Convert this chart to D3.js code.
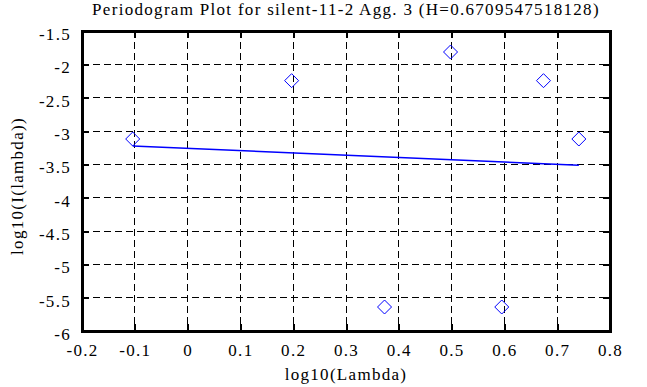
<!DOCTYPE html>
<html>
<head>
<meta charset="utf-8">
<script src="https://cdn.jsdelivr.net/npm/d3@7"></script>
<style>
  body { margin: 0; background: #fff; }
  svg text { font-family: "Liberation Serif", "Times New Roman", serif; fill: #000; letter-spacing: 1.3px; }
</style>
</head>
<body>
<div id="chart"></div>
<script>
// periodogram points (log10 frequency vs log10 intensity)
const logLambda = [-0.104, 0.197, 0.373, 0.498, 0.595, 0.674, 0.741];
const logI = [-3.12, -2.245, -5.64, -1.815, -5.64, -2.245, -3.12];

// least squares fit, evaluated at first and last point
const fitX = [-0.104, 0.741];
const fitY = [-3.225, -3.514];

const xTicks = [-0.2, -0.1, 0, 0.1, 0.2, 0.3, 0.4, 0.5, 0.6, 0.7, 0.8];
const yTicks = [-6, -5.5, -5, -4.5, -4, -3.5, -3, -2.5, -2, -1.5];

const titleText = "Periodogram Plot for silent-11-2 Agg. 3 (H=0.6709547518128)";

const W = 647, H = 387;
const margin = {top: 31, right: 37, bottom: 56, left: 82};
const width = W - margin.left - margin.right;
const height = H - margin.top - margin.bottom;
const serif = '"Liberation Serif", "Times New Roman", serif';

const svg = d3.select("#chart").append("svg")
    .attr("width", W)
    .attr("height", H);

const g = svg.append("g")
    .attr("transform", "translate(" + margin.left + "," + margin.top + ")");

const x = d3.scaleLinear().domain([-0.2, 0.8]).range([0, width]);
const y = d3.scaleLinear().domain([-6, -1.5]).range([height, 0]);

// dashed grid
g.selectAll("line.vgrid")
    .data(xTicks.slice(1, -1))
    .enter().append("line")
    .attr("class", "vgrid")
    .attr("x1", d => x(d)).attr("x2", d => x(d))
    .attr("y1", 0).attr("y2", height)
    .attr("stroke", "#000")
    .attr("stroke-width", 1)
    .attr("shape-rendering", "crispEdges")
    .attr("stroke-dasharray", "7,4");

g.selectAll("line.hgrid")
    .data(yTicks.slice(1, -1))
    .enter().append("line")
    .attr("class", "hgrid")
    .attr("y1", d => y(d)).attr("y2", d => y(d))
    .attr("x1", 0).attr("x2", width)
    .attr("stroke", "#000")
    .attr("stroke-width", 1)
    .attr("shape-rendering", "crispEdges")
    .attr("stroke-dasharray", "7,4");

// axes (inward ticks) on all four sides
const fmt = d => d3.format("")(d).replace("\u2212", "-");

const xBottom = g.append("g")
    .attr("transform", "translate(0," + height + ")")
    .call(d3.axisBottom(x).tickValues(xTicks).tickSizeInner(-7).tickSizeOuter(0).tickPadding(13).tickFormat(fmt));
const xTop = g.append("g")
    .call(d3.axisTop(x).tickValues(xTicks).tickSizeInner(-7).tickSizeOuter(0).tickFormat(""));
const yLeft = g.append("g")
    .call(d3.axisLeft(y).tickValues(yTicks).tickSizeInner(-7).tickSizeOuter(0).tickPadding(11).tickFormat(fmt));
const yRight = g.append("g")
    .attr("transform", "translate(" + width + ",0)")
    .call(d3.axisRight(y).tickValues(yTicks).tickSizeInner(-7).tickSizeOuter(0).tickFormat(""));

[xBottom, xTop, yLeft, yRight].forEach(a => {
    a.attr("font-family", serif).attr("font-size", 17);
    a.select(".domain").remove();
    a.selectAll(".tick line")
        .attr("stroke", "#000")
        .attr("stroke-width", 2)
        .attr("shape-rendering", "crispEdges");
    a.selectAll("text")
        .style("font-family", serif)
        .style("font-size", "17px")
        .attr("fill", "#000");
});
yLeft.selectAll("text").attr("dy", "0.5em");

// frame
g.append("rect")
    .attr("x", 0).attr("y", 0)
    .attr("width", width).attr("height", height)
    .attr("fill", "none")
    .attr("stroke", "#000")
    .attr("stroke-width", 3)
    .attr("shape-rendering", "crispEdges");

// fit line
g.append("path")
    .datum(fitX.map((d, i) => [d, fitY[i]]))
    .attr("fill", "none")
    .attr("stroke", "#0000ff")
    .attr("stroke-width", 1.5)
    .attr("d", d3.line().x(d => x(d[0])).y(d => y(d[1])));

// diamond markers
const pts = logLambda.map((d, i) => ({lx: d, li: logI[i]}));
g.selectAll("path.pt")
    .data(pts)
    .enter().append("path")
    .attr("class", "pt")
    .attr("transform", d => "translate(" + x(d.lx) + "," + y(d.li) + ")")
    .attr("d", "M0,-7L7,0L0,7L-7,0Z")
    .attr("fill", "none")
    .attr("stroke", "#0000ff")
    .attr("stroke-width", 1);

// titles
svg.append("text")
    .attr("x", margin.left + width / 2)
    .attr("y", 15)
    .attr("text-anchor", "middle")
    .style("font-size", "17px")
    .text(titleText);

svg.append("text")
    .attr("x", margin.left + width / 2)
    .attr("y", 380)
    .attr("text-anchor", "middle")
    .style("font-size", "17px")
    .text("log10(Lambda)");

svg.append("text")
    .attr("transform", "translate(23," + (margin.top + height / 2 + 5) + ") rotate(-90)")
    .attr("text-anchor", "middle")
    .style("font-size", "17px")
    .text("log10(I(lambda))");
</script>
</body>
</html>
